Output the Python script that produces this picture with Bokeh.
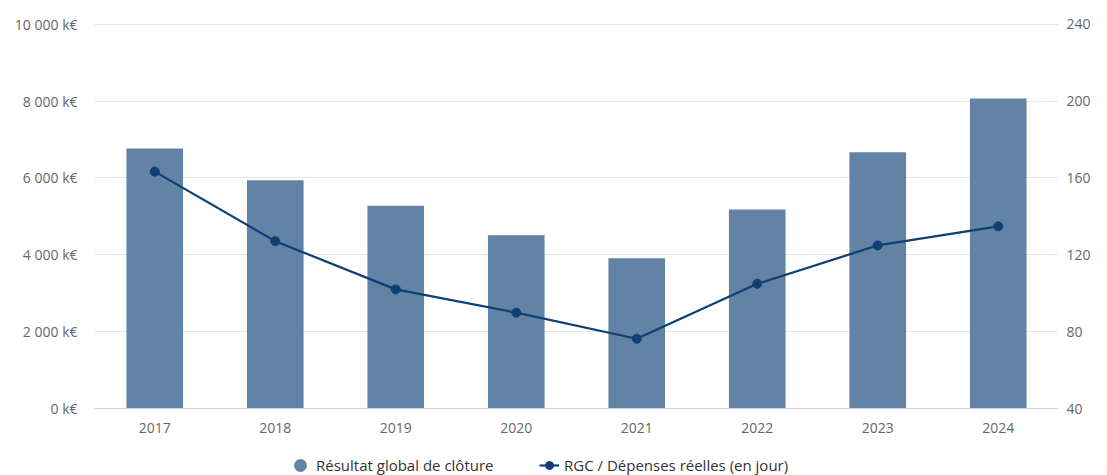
from bokeh.plotting import figure
from bokeh.layouts import column
from bokeh.models import (ColumnDataSource, Range1d, LinearAxis, FixedTicker,
                          CustomJSTickFormatter, Legend, LegendItem, FactorRange)
from bokeh.embed import file_html
from bokeh.resources import INLINE

# Annual figures
years = ["2017", "2018", "2019", "2020", "2021", "2022", "2023", "2024"]
resultat_kEUR = [6770, 5940, 5280, 4510, 3910, 5180, 6670, 8070]
ratio_jours = [163.3, 127.1, 102.0, 89.9, 76.3, 104.9, 124.9, 134.8]

left_ticks = [0, 2000, 4000, 6000, 8000, 10000]
right_ticks = [40, 80, 120, 160, 200, 240]

BAR_COLOR = "#6282a6"
LINE_COLOR = "#0f3f73"
FONT = "Open Sans"

src = ColumnDataSource(dict(year=years, res=resultat_kEUR, ratio=ratio_jours))

# a hair of headroom so the top gridline is not clipped by the frame
p = figure(width=1107, height=440, x_range=FactorRange(*years),
           y_range=Range1d(0, 10020), output_backend="svg",
           toolbar_location=None, min_border_left=94, min_border_right=49,
           min_border_top=23, min_border_bottom=32)
p.outline_line_color = None
p.extra_y_ranges = {"ratio": Range1d(40, 240.4)}

p.vbar(x="year", top="res", width=0.47, source=src,
       fill_color=BAR_COLOR, line_color=None)
p.line(x="year", y="ratio", source=src, y_range_name="ratio",
       line_color=LINE_COLOR, line_width=2.2)
p.scatter(x="year", y="ratio", source=src, y_range_name="ratio",
          marker="circle", size=9, fill_color=LINE_COLOR, line_color=LINE_COLOR)

# left axis (k€)
ya = p.yaxis[0]
ya.ticker = FixedTicker(ticks=left_ticks)
ya.formatter = CustomJSTickFormatter(code="""
    return tick.toFixed(0).replace(/\\B(?=(\\d{3})+(?!\\d))/g, ' ') + ' k\u20ac';
""")
ya.axis_line_color = None
ya.major_tick_line_color = None
ya.minor_tick_line_color = None
ya.major_label_text_color = "#666666"
ya.major_label_text_font = FONT
ya.major_label_text_font_size = "14px"
ya.major_label_standoff = 11

# right axis (days)
ra = LinearAxis(y_range_name="ratio", ticker=FixedTicker(ticks=right_ticks))
ra.axis_line_color = None
ra.major_tick_line_color = None
ra.minor_tick_line_color = None
ra.major_label_text_color = "#666666"
ra.major_label_text_font = FONT
ra.major_label_text_font_size = "14px"
ra.major_label_standoff = 2
p.add_layout(ra, "right")

xa = p.xaxis[0]
xa.axis_line_color = "#ccd6eb"
xa.axis_line_width = 1
xa.major_tick_line_color = None
xa.minor_tick_line_color = None
xa.major_label_text_color = "#666666"
xa.major_label_text_font = FONT
xa.major_label_text_font_size = "14px"
xa.major_label_standoff = 8

p.xgrid.grid_line_color = None
p.ygrid.grid_line_color = "#e6e6e6"
p.ygrid.grid_line_width = 1

# legend strip underneath the chart
lg = figure(width=1107, height=35, x_range=Range1d(0, 1), y_range=Range1d(0, 1),
            output_backend="svg", toolbar_location=None,
            min_border_left=0, min_border_right=0, min_border_top=0,
            min_border_bottom=0)
lg.axis.visible = False
lg.grid.visible = False
lg.outline_line_color = None
nan = float("nan")
sw_bar = lg.scatter(x=[nan], y=[nan], marker="circle",
                    fill_color=BAR_COLOR, line_color=None)
sw_line = lg.line(x=[nan], y=[nan], line_color=LINE_COLOR, line_width=2.2)
sw_dot = lg.scatter(x=[nan], y=[nan], marker="circle",
                    fill_color=LINE_COLOR, line_color=LINE_COLOR)


def styled_legend(items, loc, gw, gh, standoff):
    leg = Legend(items=items, orientation="horizontal", location=loc)
    leg.label_text_font = FONT
    leg.label_text_font_size = "15px"
    leg.label_text_color = "#333333"
    leg.border_line_color = None
    leg.background_fill_alpha = 0
    leg.glyph_width = gw
    leg.glyph_height = gh
    leg.label_standoff = standoff
    leg.padding = 0
    leg.margin = 0
    return leg


# larger round swatch for the columns, smaller dot-on-line for the ratio
lg.add_layout(styled_legend(
    [LegendItem(label="Résultat global de clôture", renderers=[sw_bar])],
    (190, -6), 32, 32, 0), "center")
lg.add_layout(styled_legend(
    [LegendItem(label="RGC / Dépenses réelles (en jour)", renderers=[sw_line, sw_dot])],
    (445, -1), 20, 22, 5), "center")

open("out.html", "w").write(file_html(column(p, lg, spacing=0), INLINE))
